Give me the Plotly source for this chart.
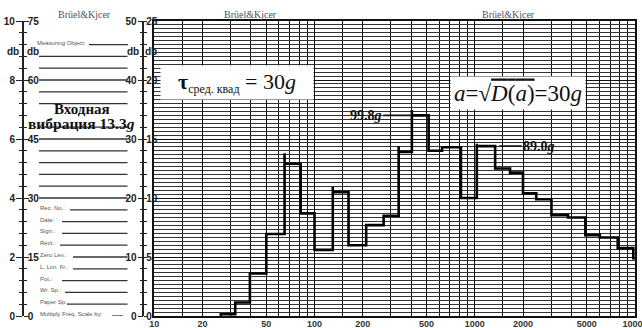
import math
import plotly.graph_objects as go

# ---------------- data ----------------
band_start_hz = [20, 26, 32, 39.5, 50, 65, 82, 100, 130, 163, 210, 270, 335, 405,
                 515, 625, 820, 1030, 1340, 1660, 2000, 2420, 3010, 3820, 4900,
                 6030, 7800, 9760]
band_end_last_hz = 10000
band_level_db = [-1.0, 0.15, 1.15, 3.6, 6.95, 12.9, 8.7, 5.6, 10.5, 6.0, 7.7, 8.5,
                 13.9, 17.0, 14.0, 14.3, 10.0, 14.4, 12.5, 12.15, 10.4, 9.9, 8.55,
                 8.35, 6.85, 6.65, 5.75, 4.9]
band_overshoot_db = [None, None, None, None, None, 13.8, None, None, 10.95, None,
                     None, None, 14.4, 17.45, None, None, None, 14.6, None, None,
                     None, None, None, None, None, None, None, None]
start_level_db = -1.1

x_tick_vals = [10, 20, 50, 100, 200, 500, 1000, 2000, 5000, 10000]
x_tick_text = ["10", "20", "50", "100", "200", "500", "1000", "2000", "5000", "10000"]
x_minor_vals = [15, 30, 40, 60, 70, 80, 90, 150, 300, 400, 600, 700, 800, 900,
                1500, 3000, 4000, 6000, 7000, 8000, 9000]

form_rows = ["Rec. No.:", "Date:", "Sign.:", "Rect.:", "Zero Lev.:", "L. Lim. Fr.:",
             "Pot.:", "Wr. Sp.:", "Paper Sp.:", "Multiply Freq. Scale by:"]
form_row_level = [9, 8, 7, 6, 5, 4, 3, 2, 1, 0]
plain_row_level = [22, 21, 20, 19, 18, 16, 15, 14, 13, 12, 11, 10]

peak_label_1 = "99.8"
peak_label_2 = "89.0"

# ---------------- layout helpers ----------------
W, H = 642, 328
def px(x):
    return x / W

# build step path
xs = [band_start_hz[0]]
ys = [start_level_db]
for i, f0 in enumerate(band_start_hz):
    f1 = band_start_hz[i + 1] if i + 1 < len(band_start_hz) else band_end_last_hz
    if band_overshoot_db[i] is not None:
        xs.append(f0); ys.append(band_overshoot_db[i])
    xs.append(f0); ys.append(band_level_db[i])
    xs.append(f1); ys.append(band_level_db[i])

fig = go.Figure()
fig.add_trace(go.Scatter(x=xs, y=ys, mode="lines", cliponaxis=False,
                         line=dict(color="black", width=2.6),
                         hoverinfo="skip", showlegend=False))
for ax in ["y2", "y3", "y4", "y5"]:
    fig.add_trace(go.Scatter(x=[10], y=[0], yaxis=ax, mode="markers",
                             marker=dict(opacity=0), hoverinfo="skip", showlegend=False))

ydom = [12 / H, 307 / H]
tickfont = dict(family="Liberation Sans, Arial", size=10, color="#222", weight="bold")
minor_tick = dict(ticks="outside", ticklen=3, tickwidth=1.2, tickcolor="#222",
                  tickmode="linear", tick0=0)

def side_axis(side, pos, rng, vals, dt, ticklen, showline, standoff):
    return dict(overlaying="y", anchor="free", position=px(pos), side=side,
                range=rng, domain=ydom, tickmode="array", tickvals=vals,
                ticks="outside", ticklen=ticklen, tickwidth=1.3, tickcolor="#222",
                showline=showline, linecolor="#222", linewidth=1.5,
                showgrid=False, zeroline=False, tickfont=tickfont,
                ticklabeloverflow="allow", automargin=False,
                ticklabelstandoff=standoff,
                minor=dict(dtick=dt, **minor_tick))

fig.update_layout(
    width=W, height=H, autosize=False,
    margin=dict(l=0, r=0, t=0, b=0, autoexpand=False),
    paper_bgcolor="white", plot_bgcolor="white",
    xaxis=dict(type="log", range=[1, 4], domain=[154.3 / W, 635 / W],
               tickmode="array", tickvals=x_tick_vals, ticktext=x_tick_text,
               ticks="", showgrid=True, gridcolor="#111", gridwidth=1.4,
               ticklabeloverflow="allow", automargin=False, ticklabelstandoff=-2,
               showline=True, mirror=True, linecolor="#111", linewidth=1.5,
               zeroline=False,
               tickfont=dict(family="Liberation Sans, Arial", size=9, color="#333",
                             weight="bold"),
               minor=dict(tickmode="array", tickvals=x_minor_vals, showgrid=True,
                          gridcolor="#111", gridwidth=1.1, ticks="")),
    yaxis=dict(range=[0, 25], domain=ydom, tickmode="linear", tick0=0, dtick=5,
               showticklabels=False, ticks="", showgrid=True, gridcolor="#111",
               gridwidth=1.3, zeroline=False, automargin=False,
               showline=True, mirror=True, linecolor="#111", linewidth=1.5,
               minor=dict(tickmode="linear", tick0=0, dtick=1 / 3, showgrid=True,
                          gridcolor="#333", gridwidth=0.8, ticks="")),
    yaxis2=side_axis("left", 22.7, [0, 10], [0, 2, 4, 6, 8, 10], 0.4, 6, True, -1),
    yaxis3=side_axis("right", 22.7, [0, 75], [0, 15, 30, 45, 60, 75], 3, 5, False, -3),
    yaxis4=side_axis("left", 143.3, [0, 50], [0, 10, 20, 30, 40, 50], 2, 5, True, -1),
    yaxis5=side_axis("right", 143.3, [0, 25], [0, 5, 10, 15, 20, 25], 1, 3, False, -3),
)

shapes = []
ann = []
line_style = dict(color="#333", width=1.3)
small = dict(family="Liberation Sans, Arial", size=6, color="#555")

# plain form lines
for r in plain_row_level:
    shapes.append(dict(type="line", xref="paper", yref="y", x0=px(39), x1=px(127.5),
                       y0=r, y1=r, line=line_style, layer="above"))
# measuring object row
ann.append(dict(text="Measuring Object:", xref="paper", yref="y", x=px(35), y=23,
                xanchor="left", yanchor="middle", yshift=2, showarrow=False,
                font=small))
shapes.append(dict(type="line", xref="paper", yref="y", x0=px(89), x1=px(128),
                   y0=23, y1=23, line=line_style, layer="above"))
# labeled form rows
form_line_start = [70, 62, 62, 60, 73, 73, 62, 65, 67, 112]
form_line_end = [127.5] * 9 + [123]
for lab, r, x0, x1 in zip(form_rows, form_row_level, form_line_start, form_line_end):
    ann.append(dict(text=lab, xref="paper", yref="y", x=px(38), y=r,
                    xanchor="left", yanchor="middle", yshift=2, showarrow=False,
                    font=small))
    shapes.append(dict(type="line", xref="paper", yref="y", x0=px(x0), x1=px(x1),
                       y0=r, y1=r, line=line_style, layer="above"))

# db labels
for xc in [13, 33, 133, 150.5]:
    ann.append(dict(text="db", xref="paper", yref="y", x=px(xc), y=22.4,
                    xanchor="center", yanchor="middle",
                    showarrow=False, font=tickfont))

# brand labels
for xc in [85, 250, 508]:
    ann.append(dict(text="Brüel&Kjcer", xref="paper", yref="paper", x=px(xc),
                    y=(H - 14) / H, xanchor="center", yanchor="middle", showarrow=False,
                    font=dict(family="Liberation Serif, Times New Roman", size=10,
                              color="#4b5263")))

serif = "Liberation Serif, Times New Roman"
# left title
ann.append(dict(text="<b>Входная</b>", xref="paper", yref="y", x=px(82), y=17.5,
                xanchor="center", yanchor="middle",
                showarrow=False, font=dict(family=serif, size=15, color="#111")))
ann.append(dict(text="<b>вибрация 13.3<i>g</i></b>", xref="paper", yref="y", x=px(82),
                y=16.3, xanchor="center", yanchor="middle",
                showarrow=False, font=dict(family=serif, size=15.5, color="#111")))

# formula boxes
ann.append(dict(text="<b>τ</b><sub><span style='font-size:12px'>сред. квад</span></sub> = 30<i>g</i>",
                xref="paper", yref="y", x=px(236.5), y=19.75, showarrow=False,
                xanchor="center", yanchor="middle",
                bgcolor="white", width=152, height=33, borderpad=0,
                font=dict(family=serif, size=22, color="#111")))
ann.append(dict(text="<i>a</i>=√<span style='text-decoration:overline'><i>D</i>(<i>a</i>)</span>=30<i>g</i>",
                xref="paper", yref="y", x=px(518), y=18.86, showarrow=False,
                xanchor="center", yanchor="middle",
                bgcolor="white", width=134, height=32, borderpad=0,
                font=dict(family=serif, size=23, color="#111")))

# peak labels
ann.append(dict(text="<b>" + peak_label_1 + "<i>g</i></b>", xref="x", yref="y",
                x=math.log10(band_start_hz[13]), y=band_level_db[13],
                ax=-46, ay=0, axref="pixel", ayref="pixel",
                showarrow=True, arrowhead=0, arrowwidth=1.8,
                arrowcolor="#111", font=dict(family=serif, size=14, color="#111")))
ann.append(dict(text="<b>" + peak_label_2 + "<i>g</i></b>", xref="x", yref="y",
                x=math.log10(band_start_hz[18]), y=band_level_db[17],
                ax=44, ay=0, axref="pixel", ayref="pixel",
                showarrow=True, arrowhead=0, arrowwidth=1.5, standoff=4,
                arrowcolor="#111", font=dict(family=serif, size=14, color="#111")))

fig.update_layout(shapes=shapes, annotations=ann)
fig.write_html("out.html")
